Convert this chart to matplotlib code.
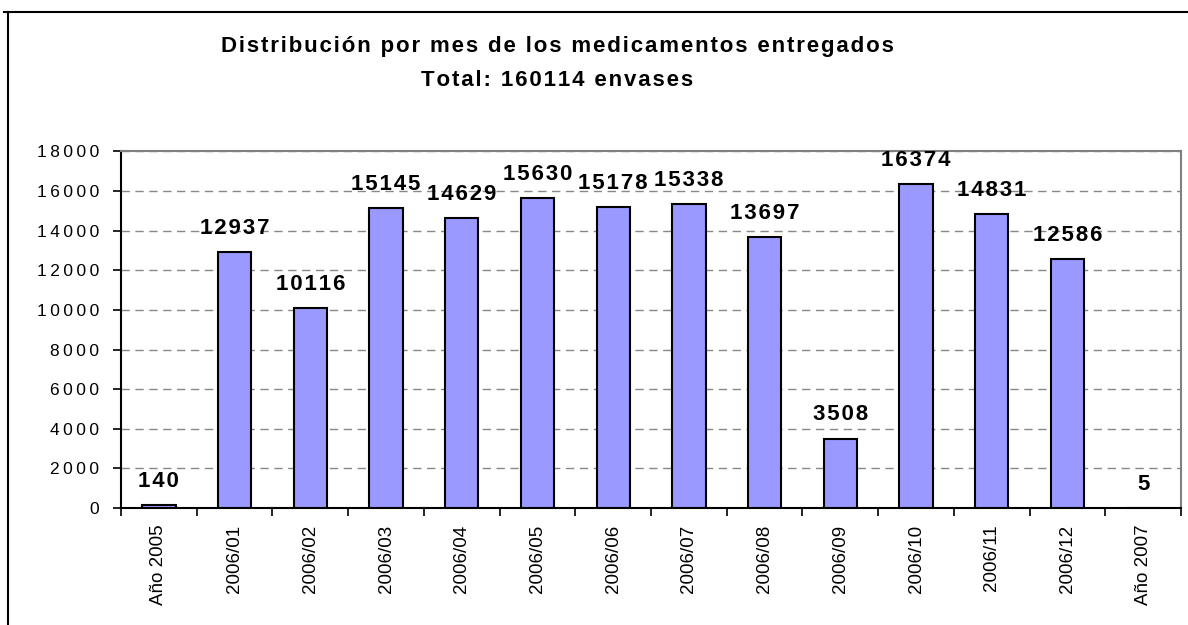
import matplotlib.pyplot as plt
from matplotlib.lines import Line2D
from matplotlib.ticker import MultipleLocator, FixedLocator
import numpy as np

plt.rcParams['font.family'] = ['Liberation Sans', 'DejaVu Sans']

# data
categories = ['Año 2005', '2006/01', '2006/02', '2006/03', '2006/04', '2006/05',
              '2006/06', '2006/07', '2006/08', '2006/09', '2006/10', '2006/11',
              '2006/12', 'Año 2007']
values = [140, 12937, 10116, 15145, 14629, 15630, 15178, 15338, 13697,
          3508, 16374, 14831, 12586, 5]
title_lines = ['Distribución por mes de los medicamentos entregados',
               'Total: 160114 envases']

THIN = '\u2009'
HAIR = '\u200a'


def spaced(s, sep=HAIR):
    # rough imitation of the wide letter spacing in the original
    return sep.join(s)


fig = plt.figure(figsize=(11.88, 6.25), dpi=100)
ax = fig.add_axes([0.1019, 0.1872, 0.8922, 0.5704])

x = np.arange(len(categories))
ax.bar(x, values, width=0.44, color='#9999FF', edgecolor='black', linewidth=1.5, zorder=3)

# value labels above the bars
for xi, v in zip(x, values):
    ax.annotate(spaced(str(v)), (xi, v), xytext=(0, 13), textcoords='offset points',
                ha='center', va='baseline', fontsize=16, fontweight='bold', zorder=4)

ax.set_xlim(-0.5, len(categories) - 0.5)
ax.set_ylim(0, 18000)
ax.yaxis.set_major_locator(MultipleLocator(2000))
ax.set_yticklabels([spaced(f'{int(t)}', THIN) for t in ax.get_yticks()], fontsize=12.5)

ax.set_xticks(x)
ax.set_xticklabels(categories, rotation=90, fontsize=13.5)
ax.xaxis.set_minor_locator(FixedLocator(np.arange(-0.5, len(categories), 1.0)))
ax.tick_params(axis='x', which='major', length=0, pad=12)
ax.tick_params(axis='x', which='minor', length=6, width=1.2, direction='out')
ax.tick_params(axis='y', length=6, width=1.2, direction='out', pad=10)

ax.grid(axis='y', color='#888888', linestyle=(0, (6, 4)), linewidth=1, zorder=0)

for side in ['left', 'bottom']:
    ax.spines[side].set_color('black')
    ax.spines[side].set_linewidth(1.5)
for side in ['top', 'right']:
    ax.spines[side].set_color('#808080')
    ax.spines[side].set_linewidth(1.5)

# title
fig.text(0.469, 0.925, spaced(title_lines[0]), ha='center', va='center',
         fontsize=16, fontweight='bold')
fig.text(0.469, 0.871, spaced(title_lines[1]), ha='center', va='center',
         fontsize=16, fontweight='bold')

# outer chart frame (top and left edges visible)
fig.add_artist(Line2D([0.003, 1.0], [0.9808, 0.9808], color='black', linewidth=1.5,
                      transform=fig.transFigure))
fig.add_artist(Line2D([0.0067, 0.0067], [0.0, 0.9808], color='black', linewidth=1.5,
                      transform=fig.transFigure))

fig.savefig('out.png', dpi=100)
